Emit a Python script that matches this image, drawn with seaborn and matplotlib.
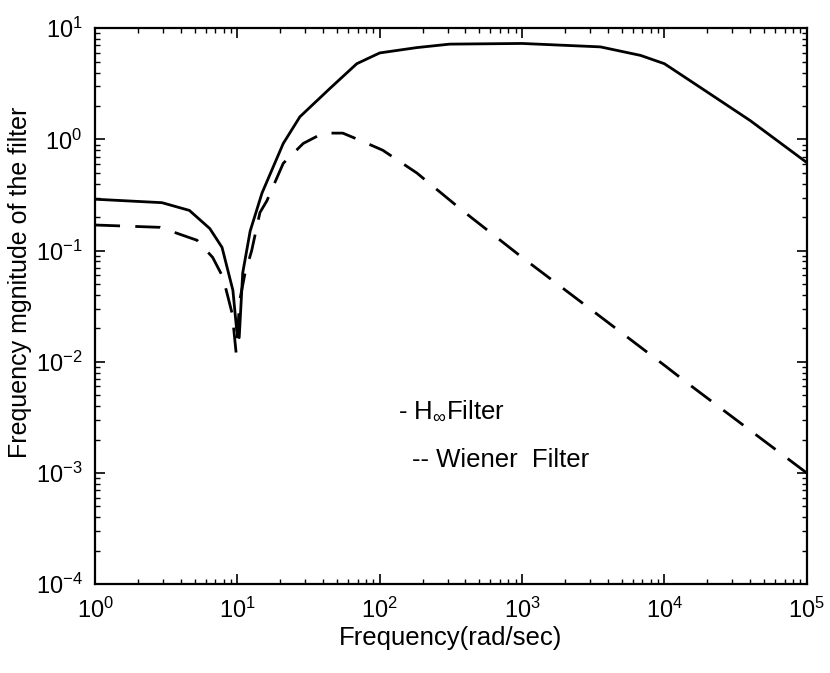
import matplotlib
matplotlib.use("Agg")
import matplotlib.pyplot as plt
import matplotlib.ticker as mticker
import seaborn as sns
import pandas as pd
import numpy as np

# H-infinity filter magnitude
h_freq = [1, 2.95, 4.6, 6.4, 7.8, 9.3, 9.9, 10.3, 10.9, 12.3, 14.9, 21, 27.5, 45,
          69, 100, 182, 310, 1000, 3550, 6800, 10000, 17700, 40000, 100000]
h_mag = [0.29, 0.27, 0.23, 0.158, 0.107, 0.044, 0.019, 0.0165, 0.063, 0.15, 0.33,
         0.92, 1.6, 2.9, 4.8, 6.0, 6.7, 7.2, 7.3, 6.8, 5.7, 4.8, 2.96, 1.48, 0.62]

# Wiener filter magnitude
w_freq = [1, 2.86, 5.2, 6.7, 7.9, 8.6, 9.2, 9.8, 10.4, 11.3, 12.6, 14.4, 16.1, 21,
          29, 40, 55, 73, 105, 182, 380, 1000, 3000, 10000, 14350, 100000]
w_mag = [0.17, 0.162, 0.124, 0.087, 0.058, 0.038, 0.027, 0.012, 0.036, 0.062, 0.1,
         0.22, 0.28, 0.61, 0.92, 1.14, 1.14, 0.98, 0.8, 0.5, 0.23, 0.087, 0.030,
         0.0093, 0.0065, 0.001]

x_label = "Frequency(rad/sec)"
y_label = "Frequency mgnitude of the filter"
h_text = "- H$_{\\infty}$Filter"
w_text = "-- Wiener  Filter"

sns.set_style("ticks")
plt.rcParams['font.family'] = ['Liberation Sans', 'DejaVu Sans']
plt.rcParams['mathtext.default'] = 'regular'
for k in ['text.color', 'axes.labelcolor', 'xtick.color', 'ytick.color', 'axes.edgecolor']:
    plt.rcParams[k] = 'black'

fig = plt.figure(figsize=(8.30, 6.73), dpi=100)
ax = fig.add_axes([0.1145, 0.132, 0.8575, 0.826])

h_df = pd.DataFrame({"freq": h_freq, "mag": h_mag})
w_df = pd.DataFrame({"freq": w_freq, "mag": w_mag})

sns.lineplot(data=h_df, x="freq", y="mag", ax=ax, color="black", lw=2.0,
             estimator=None, sort=False)
sns.lineplot(data=w_df, x="freq", y="mag", ax=ax, color="black", lw=2.0,
             estimator=None, sort=False, dashes=False)
ax.lines[1].set_dashes((9, 5.5))

ax.set_xscale("log")
ax.set_yscale("log")
ax.set_xlim(1, 1e5)
ax.set_ylim(1e-4, 1e1)

ax.xaxis.set_major_locator(mticker.LogLocator(base=10, numticks=10))
ax.yaxis.set_major_locator(mticker.LogLocator(base=10, numticks=10))
ax.xaxis.set_minor_locator(mticker.LogLocator(base=10, subs=np.arange(2, 10), numticks=20))
ax.yaxis.set_minor_locator(mticker.LogLocator(base=10, subs=np.arange(2, 10), numticks=20))
ax.tick_params(which="both", direction="in", top=True, right=True, color="black")
ax.tick_params(which="major", length=7, width=1.2, labelsize=17)
ax.tick_params(axis="x", which="major", pad=10)
ax.tick_params(axis="y", which="major", pad=9)
ax.tick_params(which="minor", length=3.5, width=1.0)
for s in ax.spines.values():
    s.set_linewidth(1.6)
    s.set_color("black")

ax.set_xlabel(x_label, fontsize=18.5, labelpad=2)
ax.set_ylabel(y_label, fontsize=18)
ax.yaxis.set_label_coords(-0.088, 0.543)

ax.text(0.426, 0.313, h_text, transform=ax.transAxes, fontsize=18.5, va="center")
ax.text(0.445, 0.223, w_text, transform=ax.transAxes, fontsize=18.5, va="center")

fig.savefig("out.png", dpi=100)
